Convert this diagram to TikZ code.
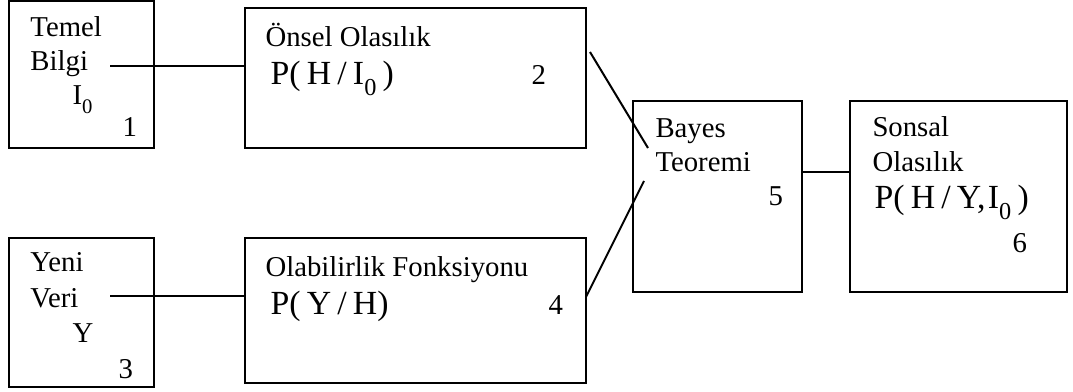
\documentclass[tikz,border=0pt]{standalone}
\usepackage{fontspec}
\setmainfont{Liberation Serif}
\usetikzlibrary{fit}
\newcommand{\lowidx}[1]{\raisebox{-0.3em}{\scalebox{0.72}{#1}}}

\begin{document}
\begin{tikzpicture}[
    x=0.4pt, y=-0.4pt,
    box/.style={draw=black, line width=0.8pt, inner sep=0pt},
    txt/.style={anchor=base west, inner sep=0pt, font=\fontsize{11.5}{13}\selectfont},
    frm/.style={anchor=base west, inner sep=0pt, font=\fontsize{13.5}{15}\selectfont},
    link/.style={line width=0.8pt, black}
  ]
  \useasboundingbox (0,0) rectangle (1073,392);
  % Boxes of the Bayes scheme
  \node[box, fit={(9,1) (154,148)}] (temel) {};
  \node[box, fit={(245,8) (586,148)}] (onsel) {};
  \node[box, fit={(9,238) (154,387)}] (yeni) {};
  \node[box, fit={(245,238) (586,383)}] (olab) {};
  \node[box, fit={(633,101) (802,292)}] (bayes) {};
  \node[box, fit={(850,101) (1067,292)}] (sonsal) {};

  \node[txt] (temelA) at (30,37) {Temel};
  \node[txt] (temelB) at (30,71) {Bilgi};
  \node[txt] (temelC) at (72,105) {I\lowidx{0}};
  \node[txt] (temelN) at (122,137) {1};

  \node[txt] (onselA) at (265,47) {Önsel Olasılık};
  \node[frm] (onselF) at (270,85) {P(\hspace{2.5pt}H\hspace{2.5pt}/\hspace{2.5pt}I\lowidx{0}\hspace{2.5pt})};
  \node[txt] (onselN) at (531,85) {2};

  \node[txt] (yeniA) at (30,272) {Yeni};
  \node[txt] (yeniB) at (30,308) {Veri};
  \node[txt] (yeniC) at (72,343) {Y};
  \node[txt] (yeniN) at (118,378) {3};

  \node[txt] (olabA) at (265,277) {Olabilirlik Fonksiyonu};
  \node[frm] (olabF) at (270,315) {P(\hspace{2.5pt}Y\hspace{2.5pt}/\hspace{2.5pt}H)};
  \node[txt] (olabN) at (548,315) {4};

  \node[txt] (bayesA) at (655,138) {Bayes};
  \node[txt] (bayesB) at (655,172) {Teoremi};
  \node[txt] (bayesN) at (768,206) {5};

  \node[txt] (sonsalA) at (872,137) {Sonsal};
  \node[txt] (sonsalB) at (872,172) {Olasılık};
  \node[frm] (sonsalF) at (874,209) {P(\hspace{2.5pt}H\hspace{2.5pt}/\hspace{2.5pt}Y,\hspace{1pt}I\lowidx{0}\hspace{2.5pt})};
  \node[txt] (sonsalN) at (1012,253) {6};

  % Connectors
  \coordinate (bilgiEnd) at (110,66);
  \coordinate (veriEnd) at (110,296);
  \coordinate (onselOut) at (590,52);
  \coordinate (bayesInA) at (648,148);
  \coordinate (olabOut) at (586,297);
  \coordinate (bayesInB) at (644,181);
  \coordinate (sonsalIn) at (850,172);
  \draw[link] (bilgiEnd) -- (bilgiEnd -| onsel.west);
  \draw[link] (veriEnd) -- (veriEnd -| olab.west);
  \draw[link] (onselOut) -- (bayesInA);
  \draw[link] (olabOut) -- (bayesInB);
  \draw[link] (sonsalIn -| bayes.east) -- (sonsalIn -| sonsal.west);
\end{tikzpicture}
\end{document}
